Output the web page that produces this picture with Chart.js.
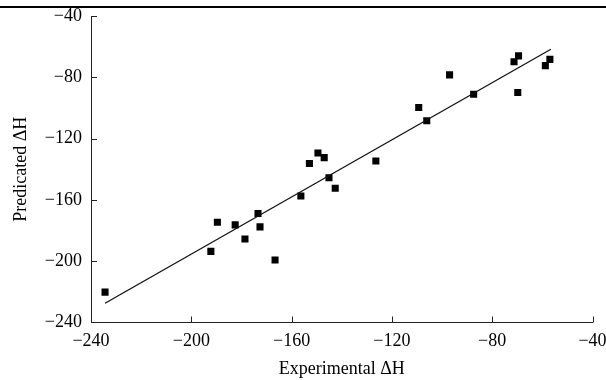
<!DOCTYPE html>
<html>
<head>
<meta charset="utf-8">
<script src="https://cdn.jsdelivr.net/npm/chart.js@4.4.1/dist/chart.umd.min.js"></script>
<style>
  html, body { margin: 0; padding: 0; background: #fff; }
  #wrap { width: 606px; height: 380px; }
</style>
</head>
<body>
<div id="wrap"><canvas id="chart" width="606" height="380"></canvas></div>
<script>
// experimental vs predicted values
const experimental = [-234.4, -192.2, -189.6, -182.5, -178.6, -173.4, -172.6, -166.6, -156.3, -152.9, -149.5, -147.0, -145.1, -142.6, -126.4, -109.3, -106.1, -97.0, -87.4, -71.3, -69.5, -69.8, -58.8, -57.0];
const predicted    = [-220.2, -193.6, -174.6, -176.3, -185.5, -168.9, -177.6, -199.2, -157.4, -136.3, -129.4, -132.4, -145.6, -152.4, -134.6, -99.7, -108.3, -78.4, -91.1, -69.8, -66.0, -89.9, -72.4, -68.3];

// fitted line end points
const fitX = [-234.4, -56.6];
const fitY = [-227.4, -61.7];

const xTicks = [-240, -200, -160, -120, -80, -40];
const yTicks = [-240, -200, -160, -120, -80, -40];

const serif = '"Liberation Serif", "Times New Roman", serif';
const minus = v => String(v).replace('-', '\u2212');

const points = experimental.map((x, i) => ({ x: x, y: predicted[i] }));
const fit = fitX.map((x, i) => ({ x: x, y: fitY[i] }));

// inward ticks + the rule across the top
const extras = {
  id: 'extras',
  afterDraw(chart) {
    const ctx = chart.ctx;
    const xs = chart.scales.x, ys = chart.scales.y;
    const a = chart.chartArea;
    ctx.save();
    ctx.strokeStyle = '#222';
    ctx.lineWidth = 1;
    ctx.beginPath();
    xTicks.forEach(t => {
      if (t === xTicks[0]) return;
      const px = Math.round(xs.getPixelForValue(t)) + 0.5;
      ctx.moveTo(px, a.bottom);
      ctx.lineTo(px, a.bottom - 6);
    });
    yTicks.forEach(t => {
      if (t === yTicks[0]) return;
      const py = Math.round(ys.getPixelForValue(t)) + 0.5;
      ctx.moveTo(a.left, py);
      ctx.lineTo(a.left + 6, py);
    });
    ctx.stroke();
    ctx.fillStyle = '#000';
    ctx.fillRect(0, 6, chart.width, 2);
    ctx.restore();
  }
};

new Chart(document.getElementById('chart').getContext('2d'), {
  type: 'scatter',
  data: {
    datasets: [
      {
        type: 'line',
        data: fit,
        borderColor: '#111',
        borderWidth: 1.3,
        pointRadius: 0,
        fill: false
      },
      {
        data: points,
        pointStyle: 'rect',
        pointRadius: 5,
        backgroundColor: '#000',
        borderColor: '#000',
        borderWidth: 0
      }
    ]
  },
  options: {
    responsive: false,
    animation: false,
    layout: { padding: { top: 16, right: 13.5, left: 0, bottom: 0 } },
    plugins: { legend: { display: false }, tooltip: { enabled: false } },
    scales: {
      x: {
        type: 'linear',
        min: -240, max: -40,
        afterBuildTicks: s => { s.ticks = xTicks.map(v => ({ value: v })); },
        afterFit: s => { s.height = 57.5; s.paddingRight = 0; s.paddingLeft = 0; },
        grid: { display: false },
        border: { display: true, color: '#222', width: 1 },
        ticks: {
          color: '#000',
          font: { family: serif, size: 18 },
          padding: 0,
          maxRotation: 0,
          callback: v => minus(v)
        },
        title: {
          display: true,
          text: 'Experimental \u0394H',
          color: '#000',
          font: { family: serif, size: 18 },
          padding: { top: 2, bottom: 0 }
        }
      },
      y: {
        type: 'linear',
        min: -240, max: -40,
        afterBuildTicks: s => { s.ticks = yTicks.map(v => ({ value: v })); },
        afterFit: s => { s.width = 91; s.paddingTop = 0; s.paddingBottom = 0; },
        grid: { display: false },
        border: { display: true, color: '#222', width: 1 },
        ticks: {
          color: '#000',
          font: { family: serif, size: 18 },
          padding: 1,
          callback: v => minus(v)
        },
        title: {
          display: true,
          text: 'Predicated \u0394H',
          color: '#000',
          font: { family: serif, size: 18 },
          padding: { top: 10, bottom: 4 }
        }
      }
    }
  },
  plugins: [extras]
});
</script>
</body>
</html>
